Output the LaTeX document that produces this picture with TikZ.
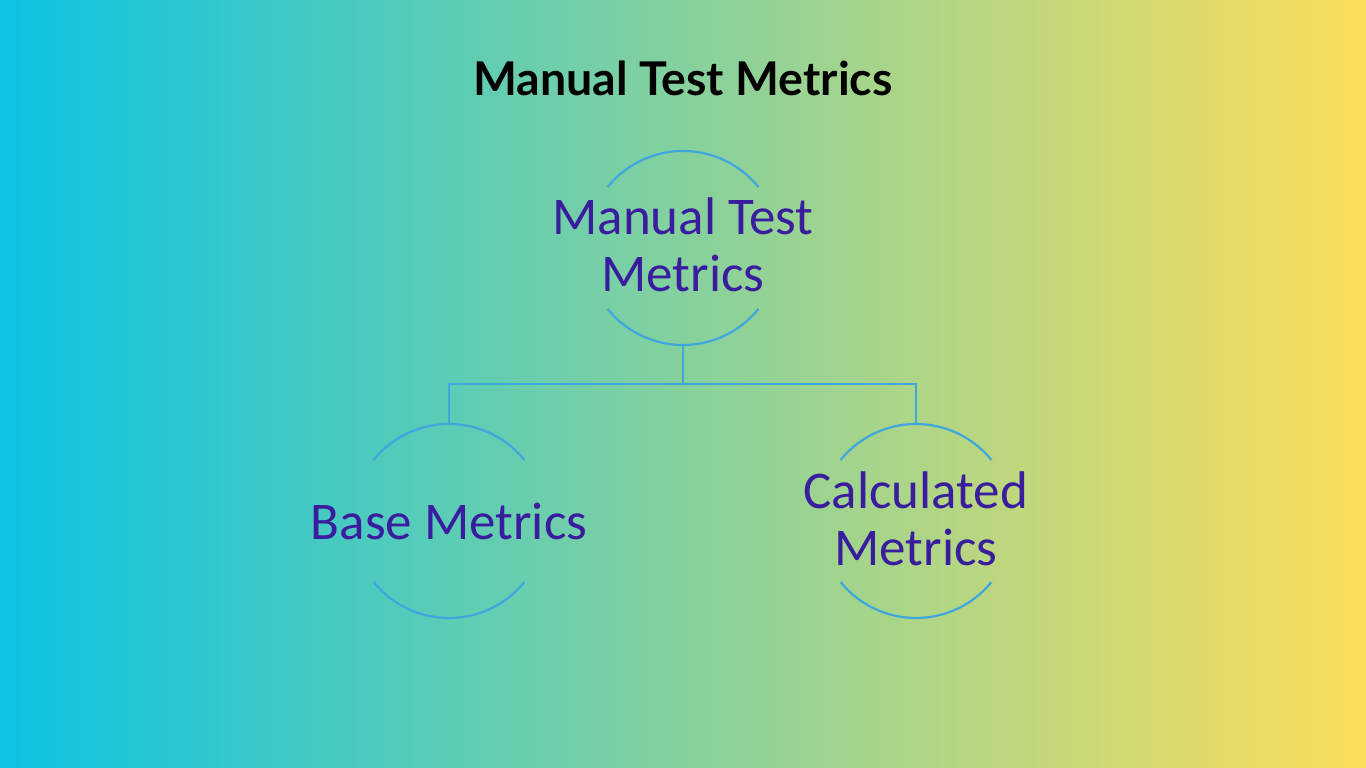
\documentclass[tikz,border=0pt]{standalone}
\usepackage{fontspec}
\setmainfont{Carlito}
\newfontfamily\titlefont{Lato}
\begin{document}
\begin{tikzpicture}[x=1pt,y=1pt,
  arcline/.style={draw=arcblue,line width=2.2pt},
  conn/.style={draw=arcblue,line width=2.2pt},
  ring/.style={circle,minimum size=194pt,inner sep=0pt,draw=none},
  label/.style={text=labelviolet,align=center,font=\fontsize{53}{57}\selectfont,inner sep=0pt},
  heading/.style={text=black,font=\titlefont\bfseries\fontsize{46.5}{50}\selectfont,inner sep=0pt}]
\definecolor{bgl}{HTML}{0BC3E3}
\definecolor{bgm}{HTML}{85D19E}
\definecolor{bgr}{HTML}{FCDD5A}
\definecolor{arcblue}{HTML}{3FA6DE}
\definecolor{labelviolet}{HTML}{3A1C9E}
\useasboundingbox (0,0) rectangle (1366,768);
\shade[left color=bgl,right color=bgm] (0,0) rectangle (683,768);
\shade[left color=bgm,right color=bgr] (683,0) rectangle (1366,768);

\node[heading] (title) at (683,690) {Manual Test Metrics};

\node[ring] (top) at (683,520) {};
\node[ring] (left) at (449,247) {};
\node[ring] (right) at (916,247) {};

\node[label] (toptext) at (683,523) {Manual Test\\Metrics};
\node[label] (lefttext) at (449,247) {Base Metrics};
\node[label] (righttext) at (916,249) {Calculated\\Metrics};

\foreach \n in {top,left,right}{
  \draw[arcline] ([shift={(39:97)}]\n.center) arc (39:141:97);
  \draw[arcline] ([shift={(-39:97)}]\n.center) arc (-39:-141:97);
}

\coordinate (junction) at (683,384);
\draw[conn] (top.south) -- (junction);
\draw[conn] (left.north) |- (junction);
\draw[conn] (right.north) |- (junction);
\end{tikzpicture}
\end{document}
